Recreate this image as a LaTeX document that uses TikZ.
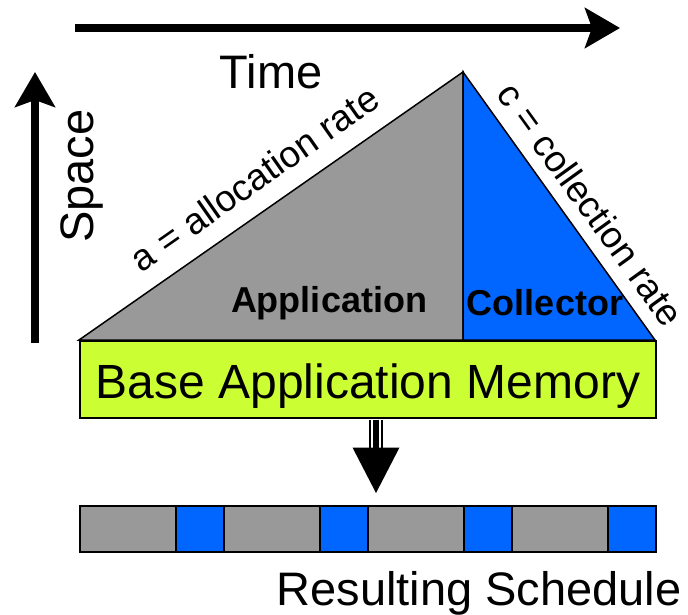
\documentclass[tikz,border=0pt]{standalone}
\usepackage{fontspec}
\setmainfont{Liberation Sans}
\usetikzlibrary{arrows.meta,calc}
\definecolor{appgray}{HTML}{999999}
\definecolor{gcblue}{HTML}{0066FF}
\definecolor{memgreen}{HTML}{CCFF33}
\tikzset{
  axis/.style={line width=8pt, -{Stealth[length=35pt,width=40pt,inset=7pt]}},
  region/.style={draw=black, line width=1.5pt, line join=miter},
  bigtext/.style={font=\fontsize{47}{56}\selectfont, inner sep=0pt, anchor=base},
  ratetext/.style={font=\fontsize{37}{44}\selectfont, inner sep=0pt, anchor=base},
  boldtext/.style={font=\fontsize{36}{43}\selectfont\bfseries, inner sep=0pt, anchor=base},
  slot/.style={draw=black, line width=1.5pt, minimum height=46pt, inner sep=0pt, anchor=north west},
}
\begin{document}
\begin{tikzpicture}[x=1pt,y=-1pt]
\useasboundingbox (0,0) rectangle (688,615);

% time and space axes
\coordinate (t0) at (75,28);
\coordinate (t1) at (620,28);
\draw[axis] (t0) -- (t1);
\node[bigtext] (time) at (271,89) {Time};
\coordinate (s0) at (35,343);
\coordinate (s1) at (35,72);
\draw[axis] (s0) -- (s1);
\node[bigtext, rotate=90] (space) at (93,176) {Space};

% allocation and collection triangles
\coordinate (left) at (79,340);
\coordinate (apex) at (463,72);
\coordinate (foot) at (463,340);
\coordinate (right) at (655,340);
\filldraw[region, fill=appgray] (left) -- (apex) -- (foot) -- cycle;
\filldraw[region, fill=gcblue] (foot) -- (apex) -- (right) -- cycle;
\node[ratetext, rotate=35] (arate) at (262,189) {a = allocation rate};
\node[ratetext, rotate=-54.2] (crate) at (580,212) {c = collection rate};
\node[boldtext] (app) at (329,312) {Application};
\node[boldtext] (col) at (545,315) {Collector};

% base memory block
\node[region, fill=memgreen, minimum width=576pt, minimum height=77pt,
      inner sep=0pt, anchor=north west] (mem) at (79,340) {};
\node[bigtext, font=\fontsize{48}{56}\selectfont] (memlabel) at (368,398) {Base Application Memory};

% resulting schedule: mutator slices and collector slices
\node[minimum width=576pt, minimum height=46pt, inner sep=0pt,
      anchor=north west] (sched) at (79,505) {};
\foreach \i in {0,1,2,3} {
  \node[slot, fill=appgray, minimum width=96pt] (g\i) at (79+144*\i,505) {};
  \node[slot, fill=gcblue, minimum width=48pt] (b\i) at (175+144*\i,505) {};
}
\node[bigtext] (res) at (479,605) {Resulting Schedule};

% hollow shaft arrow from memory to schedule
\coordinate (ax) at (376,0);
\coordinate (top) at ($(ax|-mem.south)+(0,1)$);
\coordinate (hb) at ($(ax|-mem.south)+(0,29)$);
\coordinate (tip) at ($(ax|-sched.north)+(0,-12)$);
\draw[line width=14pt] (top) -- (hb);
\draw[line width=10pt, white] (top) -- (hb);
\draw[line width=6pt] (top) -- (hb);
\fill ($(hb)+(-23.5,0)$) -- ($(hb)+(23.5,0)$) -- (tip) -- cycle;
\end{tikzpicture}
\end{document}
